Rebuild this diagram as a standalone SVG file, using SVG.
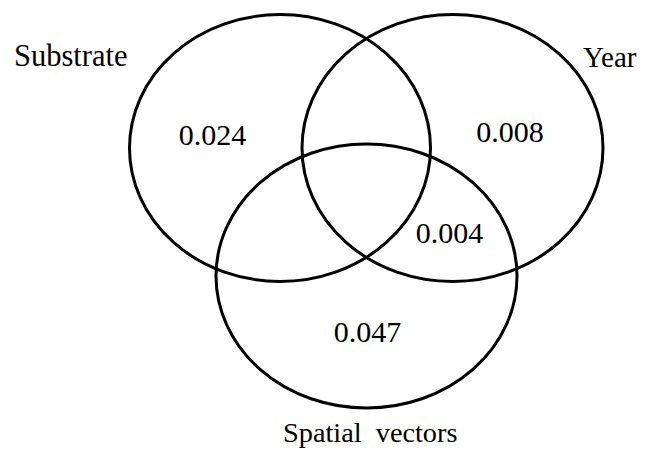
<svg xmlns="http://www.w3.org/2000/svg" width="646" height="451" viewBox="0 0 646 451">
<style>
.set{fill:none;stroke:#000;stroke-width:3}
.lbl{font-family:'Liberation Serif','Times New Roman',serif;font-size:29px;fill:#000;white-space:pre}
.num{font-family:'Liberation Serif','Times New Roman',serif;font-size:30px;fill:#000;text-anchor:middle}
</style>
<rect width="646" height="451" fill="#fff"/>
<g id="substrate">
<ellipse class="set" cx="280" cy="148" rx="150.5" ry="133.5"/>
<text class="lbl" x="14" y="66" style="font-size:30.5px">Substrate</text>
<text class="num" x="212.5" y="145">0.024</text>
</g>
<g id="year">
<ellipse class="set" cx="452.5" cy="148" rx="150.5" ry="133.5"/>
<text class="lbl" x="583" y="67">Year</text>
<text class="num" x="510" y="142">0.008</text>
</g>
<g id="spatial">
<ellipse class="set" cx="366.5" cy="276" rx="150.5" ry="132"/>
<text class="lbl" x="283" y="442" style="font-size:28.3px" xml:space="preserve">Spatial  vectors</text>
<text class="num" x="367.5" y="342">0.047</text>
</g>
<g id="overlap">
<text class="num" x="449.5" y="243">0.004</text>
</g>
</svg>
